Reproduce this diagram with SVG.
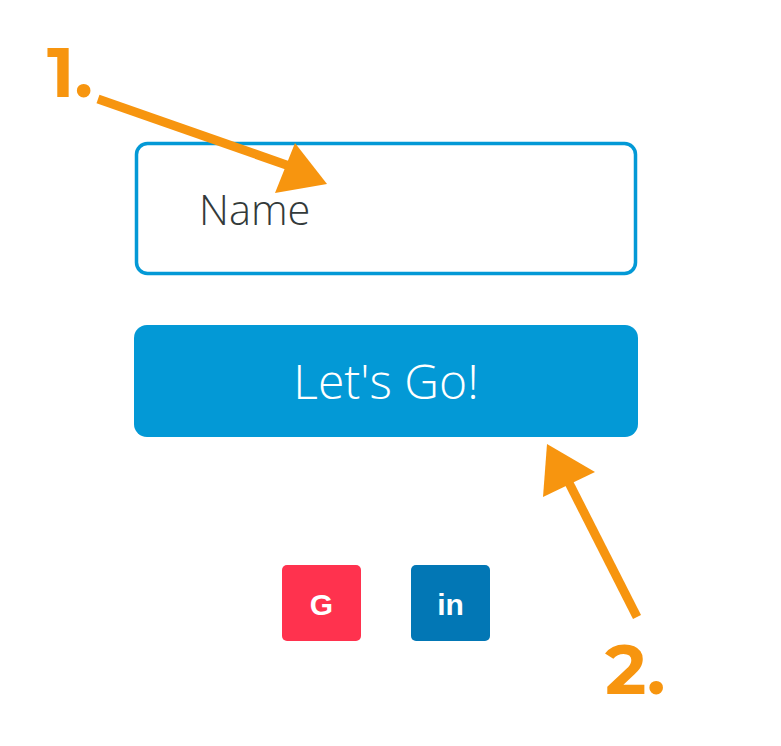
<svg xmlns="http://www.w3.org/2000/svg" width="781" height="746" viewBox="0 0 781 746">
<style>
.num{font-family:"Montserrat","Liberation Sans",sans-serif;font-weight:bold;font-size:70px;fill:#f7950f}
.arrow{stroke:#f7950f;stroke-width:9;fill:none}
.head{fill:#f7950f}
.ui{font-family:"Open Sans",sans-serif;font-weight:300}
.icon{font-family:"Liberation Sans",sans-serif;font-weight:bold;fill:#fff;text-anchor:middle}
</style>
<rect width="781" height="746" fill="#fff"/>
<g id="name-field">
<rect x="136.5" y="143.5" width="499" height="130" rx="11" fill="#fff" stroke="#0399d6" stroke-width="3.5"/>
<text class="ui" x="199" y="225" font-size="41.5" fill="#333a3a">Name</text>
</g>
<g id="go-button">
<rect x="134" y="325" width="504" height="112" rx="13" fill="#0399d6"/>
<text class="ui" x="386" y="399" font-size="48" fill="#fff" text-anchor="middle">Let's Go!</text>
</g>
<g id="google">
<rect x="282" y="565" width="79" height="76" rx="5" fill="#ff324e"/>
<text class="icon" x="321.5" y="615" font-size="30">G</text>
</g>
<g id="linkedin">
<rect x="411" y="565" width="79" height="76" rx="5" fill="#0277b5"/>
<text class="icon" x="450.5" y="615" font-size="30">in</text>
</g>
<g id="label1"><text class="num" x="47" y="97">1.</text></g>
<g id="label2"><text class="num" x="605" y="694">2.</text></g>
<g id="connectors">
<line class="arrow" x1="98" y1="99" x2="295" y2="168"/>
<polygon class="head" points="327,184 295,143 275,193"/>
<line class="arrow" x1="637" y1="617" x2="565" y2="475"/>
<polygon class="head" points="547,444 595,472 543,497"/>
</g>
</svg>
